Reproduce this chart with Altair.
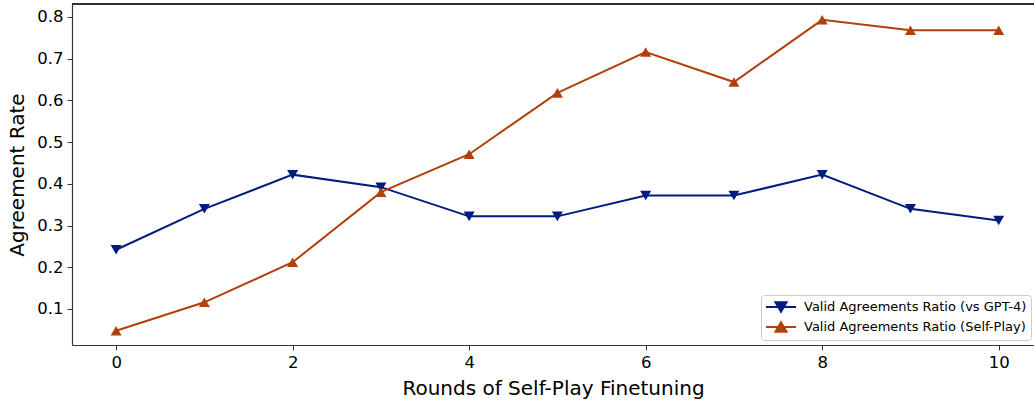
import altair as alt
import pandas as pd

# Rounds of self-play finetuning and the agreement rates measured after each one
rounds = [0, 1, 2, 3, 4, 5, 6, 7, 8, 9, 10]
vs_gpt4 = [0.242, 0.34, 0.422, 0.392, 0.322, 0.322, 0.372, 0.372, 0.422, 0.34, 0.312]
self_play = [0.048, 0.116, 0.212, 0.38, 0.471, 0.618, 0.716, 0.644, 0.793, 0.768, 0.768]

series_names = [
    "Valid Agreements Ratio (vs GPT-4)",
    "Valid Agreements Ratio (Self-Play)",
]
series_colors = ["#001c7f", "#b1400d"]
marker_shapes = ["triangle-down", "triangle-up"]
# legend glyphs: a short line with the marker sitting on it
legend_glyphs = [
    "M-1,0H3.3M0.35,-0.68H1.93L1.14,0.68Z",
    "M-1,0H3.3M1.14,-0.68L1.93,0.68H0.35Z",
]
x_ticks = [0, 2, 4, 6, 8, 10]
y_ticks = [0.1, 0.2, 0.3, 0.4, 0.5, 0.6, 0.7, 0.8]

df = pd.DataFrame(
    {
        "round": rounds * 2,
        "rate": vs_gpt4 + self_play,
        "series": [series_names[0]] * len(rounds) + [series_names[1]] * len(rounds),
    }
)

FONT = "DejaVu Sans"
SPINE = "#333333"
W, H = 962, 341

x = alt.X(
    "round:Q",
    scale=alt.Scale(domain=[-0.5, 10.4], nice=False, zero=False),
    axis=alt.Axis(
        values=x_ticks,
        title="Rounds of Self-Play Finetuning",
        grid=False,
        labelFontSize=16.5,
        titleFontSize=20,
        titleFontWeight="normal",
        labelColor="black",
        titleColor="black",
        tickSize=5,
        tickColor=SPINE,
        domainColor=SPINE,
        domainWidth=1.2,
        labelPadding=4,
        titlePadding=8,
        labelFont=FONT,
        titleFont=FONT,
    ),
)
y = alt.Y(
    "rate:Q",
    scale=alt.Scale(domain=[0.0137, 0.831], nice=False, zero=False),
    axis=alt.Axis(
        values=y_ticks,
        format=".1f",
        title="Agreement Rate",
        grid=False,
        labelFontSize=16.5,
        titleFontSize=20,
        titleFontWeight="normal",
        labelColor="black",
        titleColor="black",
        tickSize=5,
        tickColor=SPINE,
        domainColor=SPINE,
        domainWidth=1.2,
        labelPadding=4,
        titlePadding=9,
        labelFont=FONT,
        titleFont=FONT,
    ),
)

color_scale = alt.Scale(domain=series_names, range=series_colors)

# top edge of the plot frame
top_spine = alt.Chart(df).mark_rule(color=SPINE, strokeWidth=1.2).encode(
    x=alt.value(0), x2=alt.value(W), y=alt.value(0)
)

lines = alt.Chart(df).mark_line(strokeWidth=2).encode(
    x=x,
    y=y,
    color=alt.Color("series:N", scale=color_scale, legend=None),
    detail="series:N",
)

points = alt.Chart(df).mark_point(filled=True, size=121, opacity=1).encode(
    x=x,
    y=y,
    color=alt.Color("series:N", scale=color_scale, legend=None),
    shape=alt.Shape(
        "series:N",
        scale=alt.Scale(domain=series_names, range=marker_shapes),
        legend=None,
    ),
)

# legend-only layer: no rows survive the filter, the scales carry the entries
legend_layer = (
    alt.Chart(df)
    .transform_filter("datum.round < -100")
    .mark_point(filled=True)
    .encode(
        x=x,
        y=y,
        fill=alt.Fill("series:N", scale=color_scale, legend=alt.Legend(title=None)),
        stroke=alt.Stroke("series:N", scale=color_scale, legend=alt.Legend(title=None)),
        shape=alt.Shape(
            "series:N",
            scale=alt.Scale(domain=series_names, range=legend_glyphs),
            legend=alt.Legend(
                title=None,
                orient="none",
                legendX=689,
                legendY=291,
                symbolSize=196,
                symbolStrokeWidth=2,
                symbolOpacity=1,
                labelFontSize=13,
                labelFont=FONT,
                labelColor="black",
                labelOffset=23,
                rowPadding=2,
                padding=4,
                strokeColor="#cccccc",
                fillColor="white",
                cornerRadius=3,
                labelLimit=400,
            ),
        ),
    )
)

chart = (
    alt.layer(top_spine, lines, points, legend_layer)
    .resolve_scale(color="independent", shape="independent", fill="independent", stroke="independent")
    .properties(
        width=W,
        height=H,
        padding={"left": 72, "top": 4, "right": 0, "bottom": 57},
        autosize=alt.AutoSizeParams(type="none"),
        background="white",
    )
    .configure_view(stroke=None)
)

chart.save("out.html", embed_options={"renderer": "svg", "actions": False})
